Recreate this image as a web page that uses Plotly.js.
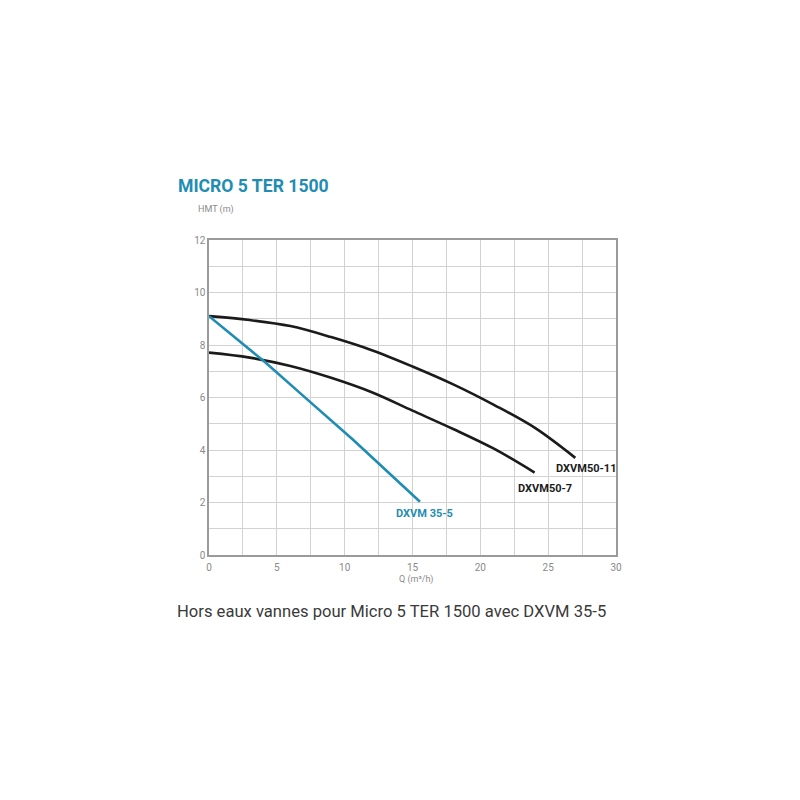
<!DOCTYPE html>
<html>
<head>
<meta charset="utf-8">
<script src="https://cdn.plot.ly/plotly-3.0.1.min.js"></script>
<style>
  html, body { margin: 0; padding: 0; background: #ffffff; }
  #chart { width: 800px; height: 800px; }
</style>
</head>
<body>
<div id="chart"></div>
<script>
// Pump curves: head HMT (m) against flow Q (m3/h)
const qDXVM50_11 = [0, 3, 6, 9, 12, 15, 18, 21, 24, 27];
const hDXVM50_11 = [9.1, 8.95, 8.72, 8.3, 7.8, 7.18, 6.5, 5.72, 4.85, 3.7];

const qDXVM50_7 = [0, 3, 6, 9, 12, 15, 18, 21, 24];
const hDXVM50_7 = [7.71, 7.52, 7.2, 6.75, 6.2, 5.5, 4.8, 4.05, 3.14];

const qDXVM35_5 = [0, 4.1, 7.3, 10.6, 15.55];
const hDXVM35_5 = [9.1, 7.36, 5.9, 4.4, 2.03];

const curveNames = ["DXVM50-11", "DXVM50-7", "DXVM 35-5"];
const xTicks = [0, 5, 10, 15, 20, 25, 30];
const yTicks = [0, 2, 4, 6, 8, 10, 12];

const blue = "#1f8db3";
const black = "#1b1b1b";
const gridGrey = "#d2d2d2";

const traces = [
  { x: qDXVM50_11, y: hDXVM50_11, name: curveNames[0], mode: "lines",
    line: { color: black, width: 2.6, shape: "spline", smoothing: 1 } },
  { x: qDXVM50_7, y: hDXVM50_7, name: curveNames[1], mode: "lines",
    line: { color: black, width: 2.6, shape: "spline", smoothing: 1 } },
  { x: qDXVM35_5, y: hDXVM35_5, name: curveNames[2], mode: "lines",
    line: { color: blue, width: 2.6 } }
];

const tickFont = { family: "Roboto, 'Open Sans', sans-serif", size: 10, color: "#8a8a8a" };
const labelFont = { family: "Roboto, sans-serif", size: 11, color: black, weight: 700 };

const layout = {
  width: 800, height: 800,
  paper_bgcolor: "#ffffff", plot_bgcolor: "#ffffff",
  showlegend: false,
  margin: { l: 209, r: 184, t: 240, b: 245 },
  title: {
    text: "<b>MICRO 5 TER 1500</b>",
    font: { family: "Roboto, sans-serif", size: 17.6, color: blue },
    xref: "container", yref: "container",
    x: 178 / 800, xanchor: "left",
    y: 1 - 186 / 800, yanchor: "middle"
  },
  xaxis: {
    range: [0, 30], tickvals: xTicks, ticktext: xTicks.map(String),
    showgrid: true, gridcolor: gridGrey, gridwidth: 1,
    minor: { dtick: 2.5, showgrid: true, gridcolor: gridGrey, gridwidth: 1 },
    showline: true, linecolor: "#9a9a9a", linewidth: 1.6, mirror: true,
    zeroline: false, ticks: "", tickfont: tickFont, ticklabelstandoff: 2
  },
  yaxis: {
    range: [0, 12], tickvals: yTicks, ticktext: yTicks.map(String),
    showgrid: true, gridcolor: gridGrey, gridwidth: 1,
    minor: { dtick: 1, showgrid: true, gridcolor: gridGrey, gridwidth: 1 },
    showline: true, linecolor: "#9a9a9a", linewidth: 1.6, mirror: true,
    zeroline: false, ticks: "", tickfont: tickFont
  },
  annotations: [
    { text: "HMT (m)", xref: "paper", yref: "paper", x: -0.032, y: 1.098,
      xanchor: "left", yanchor: "middle", showarrow: false,
      font: { family: "Roboto, sans-serif", size: 9, color: "#8a8a8a" } },
    { text: "Q (m\u00b3/h)", xref: "paper", yref: "paper", x: 0.511, y: -0.079,
      xanchor: "center", yanchor: "middle", showarrow: false,
      font: { family: "Roboto, sans-serif", size: 9, color: "#8a8a8a" } },
    { text: curveNames[0], xref: "x", yref: "y", x: 27.8, y: 3.31,
      xanchor: "center", yanchor: "middle", showarrow: false, font: labelFont },
    { text: curveNames[1], xref: "x", yref: "y", x: 24.8, y: 2.55,
      xanchor: "center", yanchor: "middle", showarrow: false, font: labelFont },
    { text: curveNames[2], xref: "x", yref: "y", x: 15.85, y: 1.6,
      xanchor: "center", yanchor: "middle", showarrow: false,
      font: { family: "Roboto, sans-serif", size: 11, color: blue, weight: 700 } },
    { text: "Hors eaux vannes pour Micro 5 TER 1500 avec DXVM 35-5",
      xref: "paper", yref: "paper", x: (175 - 209) / 407, y: (555 - 611) / 315,
      xanchor: "left", yanchor: "middle", showarrow: false,
      font: { family: "Roboto, sans-serif", size: 16.6, color: "#3a3a3a" } }
  ]
};

Plotly.newPlot("chart", traces, layout, { displayModeBar: false, staticPlot: true });
</script>
</body>
</html>
